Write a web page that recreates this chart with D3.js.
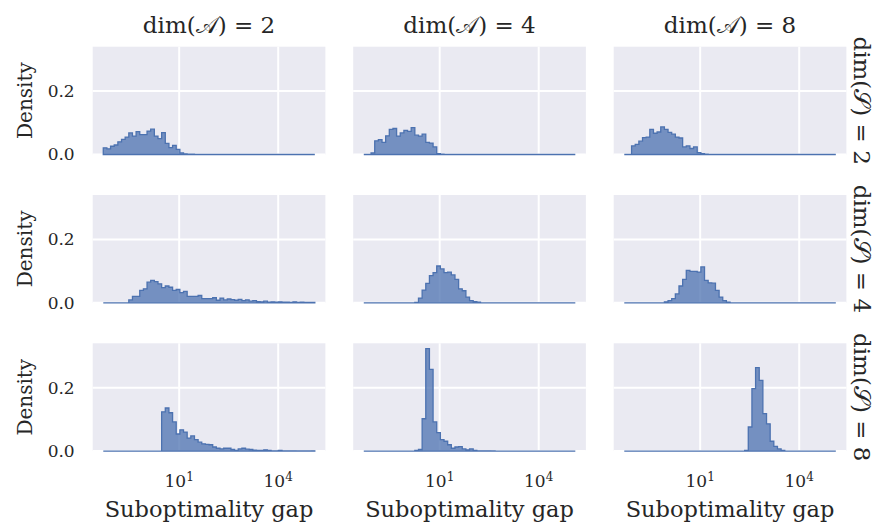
<!DOCTYPE html>
<html>
<head>
<meta charset="utf-8">
<script src="https://cdnjs.cloudflare.com/ajax/libs/d3/7.8.5/d3.min.js"></script>
<style>
  body { margin: 0; background: #ffffff; }
  text { font-family: "DejaVu Serif", serif; fill: #262626; }
</style>
</head>
<body>
<div id="chart"></div>
<script>
// facet labels
let colDims = ["2", "4", "8"]   // dim(A)
let rowDims = ["2", "4", "8"]   // dim(S)

// shared histogram bins (log10 of the gap)
let binLogMin = -1.3
let binLogMax = 5.11
let binCount = 58

// densities per bin, one array per facet: dens_S{row}_A{col}
let dens_S2_A2 = [0.021,0.018,0.026,0.030,0.040,0.048,0.055,0.068,0.058,0.072,0.063,0.063,0.074,0.080,0.058,0.050,0.069,0.035,0.022,0.029,0.016,0.005,0.002,0.001,0.001,0.0005,0,0,0,0,0,0,0,0,0,0,0,0,0,0,0,0,0,0,0,0,0,0,0,0,0,0,0,0,0,0,0,0]
let dens_S2_A4 = [0,0,0.005,0.043,0.047,0.038,0.059,0.079,0.082,0.058,0.068,0.076,0.073,0.085,0.061,0.058,0.064,0.038,0.036,0.024,0.003,0.001,0,0,0,0,0,0,0,0,0,0,0,0,0,0,0,0,0,0,0,0,0,0,0,0,0,0,0,0,0,0,0,0,0,0,0,0]
let dens_S2_A8 = [0,0,0.027,0.032,0.042,0.053,0.055,0.079,0.067,0.071,0.087,0.079,0.070,0.064,0.055,0.052,0.024,0.027,0.019,0.024,0.006,0.003,0.001,0,0,0,0,0,0,0,0,0,0,0,0,0,0,0,0,0,0,0,0,0,0,0,0,0,0,0,0,0,0,0,0,0,0,0]
let dens_S4_A2 = [0,0,0,0,0,0,0,0.009,0.020,0.020,0.039,0.044,0.065,0.071,0.067,0.060,0.048,0.053,0.049,0.039,0.042,0.032,0.036,0.020,0.020,0.020,0.023,0.013,0.013,0.013,0.016,0.008,0.015,0.009,0.012,0.010,0.008,0.011,0.007,0.009,0.005,0.007,0.004,0.003,0.005,0.002,0.003,0.002,0.003,0.002,0.002,0.001,0.003,0.001,0.002,0.001,0.001,0.001]
let dens_S4_A4 = [0,0,0,0,0,0,0,0,0,0,0,0,0,0,0.001,0.015,0.040,0.061,0.086,0.095,0.116,0.107,0.095,0.097,0.088,0.074,0.044,0.038,0.018,0.007,0.004,0.002,0,0,0,0,0,0,0,0,0,0,0,0,0,0,0,0,0,0,0,0,0,0,0,0,0,0]
let dens_S4_A8 = [0,0,0,0,0,0,0,0,0,0,0,0.003,0.007,0.013,0.028,0.053,0.074,0.102,0.099,0.099,0.097,0.113,0.071,0.063,0.062,0.039,0.018,0.007,0.002,0,0,0,0,0,0,0,0,0,0,0,0,0,0,0,0,0,0,0,0,0,0,0,0,0,0,0,0,0]
let dens_S8_A2 = [0,0,0,0,0,0,0,0,0,0,0,0,0,0,0,0,0.124,0.136,0.121,0.092,0.054,0.067,0.060,0.041,0.048,0.036,0.028,0.023,0.021,0.020,0.013,0.009,0.007,0.009,0.009,0.005,0.002,0.007,0.009,0.006,0.005,0.003,0.002,0.002,0.004,0.002,0.001,0.001,0.002,0.001,0.001,0.001,0.001,0.0005,0.0005,0.0005,0.0005,0.001]
let dens_S8_A4 = [0,0,0,0,0,0,0,0,0,0,0,0,0,0,0.002,0.005,0.102,0.323,0.258,0.092,0.058,0.036,0.031,0.020,0.009,0.013,0.014,0.007,0.004,0.007,0.002,0.001,0.001,0.001,0.001,0.0005,0,0,0,0,0,0,0,0,0,0,0,0,0,0,0,0,0,0,0,0,0,0]
let dens_S8_A8 = [0,0,0,0,0,0,0,0,0,0,0,0,0,0,0,0,0,0,0,0,0,0,0,0,0,0,0,0,0,0,0,0,0,0.002,0.076,0.197,0.263,0.223,0.118,0.086,0.031,0.015,0.007,0.002,0,0,0,0,0,0,0,0,0,0,0,0,0,0]

let grid = [
  [dens_S2_A2, dens_S2_A4, dens_S2_A8],
  [dens_S4_A2, dens_S4_A4, dens_S4_A8],
  [dens_S8_A2, dens_S8_A4, dens_S8_A8]
]

let yTicks = [0.0, 0.2]
let xTicks = [1e1, 1e4]
let xTickExp = ["1", "4"]

let width = 879, height = 530
let panelW = 232.7, panelH = 107.8
let colX = [92.7, 353.2, 613.7]
let rowY = [46.7, 195.0, 343.3]

let svg = d3.select("#chart").append("svg")
  .attr("width", width)
  .attr("height", height)

// log x axis with 5% margins like matplotlib
let pad = (binLogMax - binLogMin) * 0.05
let x = d3.scaleLog()
  .domain([Math.pow(10, binLogMin - pad), Math.pow(10, binLogMax + pad)])
  .range([0, panelW])
let y = d3.scaleLinear().domain([0, 0.34]).range([panelH, 0])

let edges = d3.range(binCount + 1).map(function(i) {
  return Math.pow(10, binLogMin + i * (binLogMax - binLogMin) / binCount)
})

function stepPath(dens) {
  let pts = [[x(edges[0]), y(0)]]
  dens.forEach(function(d, i) {
    pts.push([x(edges[i]), y(d)])
    pts.push([x(edges[i + 1]), y(d)])
  })
  pts.push([x(edges[binCount]), y(0)])
  return d3.line()(pts) + "Z"
}

for (let r = 0; r < 3; r++) {
  for (let c = 0; c < 3; c++) {
    let g = svg.append("g").attr("transform", "translate(" + colX[c] + "," + rowY[r] + ")")

    g.append("rect")
      .attr("width", panelW)
      .attr("height", panelH)
      .attr("fill", "#eaeaf2")

    // white grid
    g.selectAll(".gx").data(xTicks).enter().append("line")
      .attr("x1", function(d) { return x(d) })
      .attr("x2", function(d) { return x(d) })
      .attr("y1", 0).attr("y2", panelH)
      .attr("stroke", "#fff").attr("stroke-width", 2)
    g.selectAll(".gy").data(yTicks).enter().append("line")
      .attr("x1", 0).attr("x2", panelW)
      .attr("y1", function(d) { return y(d) })
      .attr("y2", function(d) { return y(d) })
      .attr("stroke", "#fff").attr("stroke-width", 2)

    g.append("path")
      .attr("d", stepPath(grid[r][c]))
      .attr("fill", "#4c72b0")
      .attr("fill-opacity", 0.75)
      .attr("stroke", "#4c72b0")
      .attr("stroke-width", 1.3)
      .attr("stroke-linejoin", "miter")

    // y tick labels only on the first column
    if (c == 0) {
      g.selectAll(".ty").data(yTicks).enter().append("text")
        .attr("x", -18)
        .attr("y", function(d) { return y(d) })
        .attr("dy", "0.35em")
        .attr("text-anchor", "end")
        .style("font-size", "17px")
        .text(function(d) { return d3.format(".1f")(d) })

      g.append("text")
        .attr("transform", "translate(-61," + (panelH / 2) + ") rotate(-90)")
        .attr("text-anchor", "middle")
        .style("font-size", "20px")
        .text("Density")
    }

    // column titles
    if (r == 0) {
      let t = g.append("text")
        .attr("x", panelW / 2)
        .attr("y", -14)
        .attr("text-anchor", "middle")
        .style("font-size", "23px")
      t.append("tspan").text("dim(")
      t.append("tspan").text("\u{1D49C}")
      t.append("tspan").text(") = " + colDims[c])
    }

    // row titles on the right
    if (c == 2) {
      let t = g.append("text")
        .attr("transform", "translate(" + (panelW + 8) + "," + (panelH / 2) + ") rotate(90)")
        .attr("text-anchor", "middle")
        .style("font-size", "23px")
      t.append("tspan").text("dim(")
      t.append("tspan").text("\u{1D4AE}")
      t.append("tspan").text(") = " + rowDims[r])
    }

    // x tick labels and axis title on the bottom row
    if (r == 2) {
      xTicks.forEach(function(d, i) {
        let t = g.append("text")
          .attr("x", x(d))
          .attr("y", panelH + 36)
          .attr("text-anchor", "middle")
          .style("font-size", "17px")
        t.append("tspan").text("10")
        t.append("tspan").attr("dy", "-0.5em").style("font-size", "12px").text(xTickExp[i])
      })
      g.append("text")
        .attr("x", panelW / 2)
        .attr("y", panelH + 66)
        .attr("text-anchor", "middle")
        .style("font-size", "22.5px")
        .text("Suboptimality gap")
    }
  }
}
</script>
</body>
</html>
